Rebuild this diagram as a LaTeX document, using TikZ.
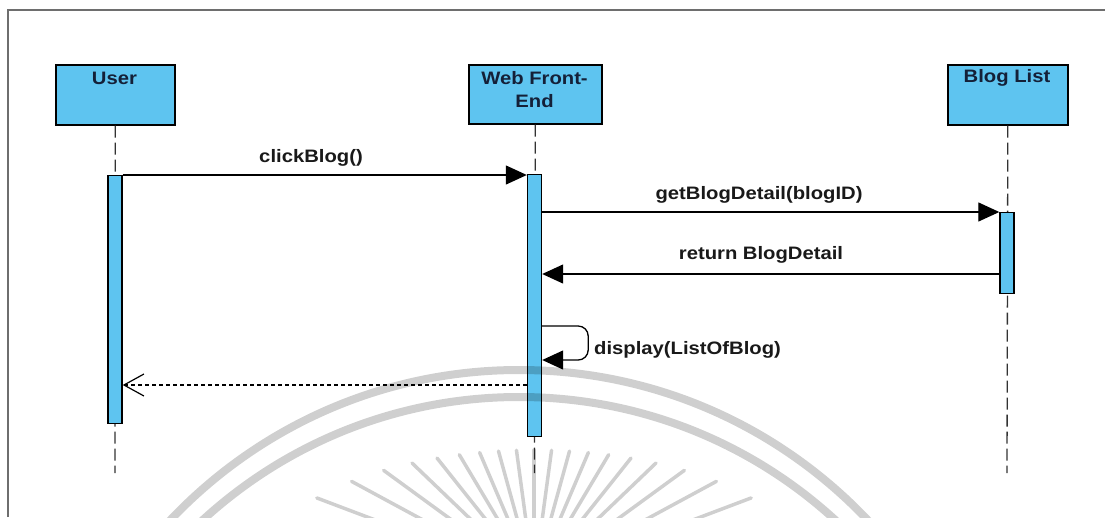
\documentclass[tikz,border=0pt]{standalone}
\usepackage{fontspec}
\setmainfont{Liberation Sans}[FakeStretch=1.125]
\usetikzlibrary{arrows.meta,calc}

\definecolor{lifeblue}{RGB}{94,196,240}
\definecolor{headtext}{RGB}{20,32,56}
\definecolor{framegray}{RGB}{110,110,110}

\begin{document}
\begin{tikzpicture}[x=1pt,y=-1pt,
  head/.style={draw=black, line width=1.6pt, fill=lifeblue, inner sep=0pt},
  actbar/.style={draw=black, line width=1.4pt, fill=lifeblue, inner sep=0pt, minimum width=14pt},
  lifeline/.style={draw=black!80, line width=1.3pt, dash pattern=on 12pt off 5pt},
  msg/.style={line width=1.3pt, -{Triangle[length=21pt,width=19pt]}},
  reply/.style={line width=1.1pt, dash pattern=on 4pt off 3pt,
    -{Straight Barb[length=20pt,width=22pt,line width=1.2pt]}},
  lbl/.style={font=\fontsize{18}{20}\selectfont\bfseries, text=black!90, inner sep=0pt},
  headlbl/.style={font=\fontsize{18}{23}\selectfont\bfseries, text=headtext, inner sep=0pt, align=center},
  wmark/.style={draw=black, line width=8pt},
  wray/.style={draw=black, line width=3.5pt, line cap=round}
]
\useasboundingbox (0,0) rectangle (1105,517);
\fill[white] (0,0) rectangle (1105,517);

% frame
\draw[framegray, line width=1.5pt] (8,517) -- (8,10) -- (1105,10);

% lifeline heads
\node[head, minimum width=119pt, minimum height=60pt, anchor=north west] (user) at (55,64) {};
\node[head, minimum width=133pt, minimum height=59pt, anchor=north west] (web) at (468,64) {};
\node[head, minimum width=120pt, minimum height=60pt, anchor=north west] (blog) at (947,64) {};
\node[headlbl] (userlbl) at (114.5,78) {User};
\node[headlbl] (weblbl) at (534.5,89.5) {Web Front-\\End};
\node[headlbl] (bloglbl) at (1007,78) {Blog List};

% lifelines
\coordinate (uend) at (115,473);
\coordinate (wend) at (534.5,473);
\coordinate (bend) at (1007,473);
\draw[lifeline] (user.south) -- (uend);
\draw[lifeline] (web.south) -- (wend);
\draw[lifeline] (blog.south) -- (bend);

% activation bars
\node[actbar, minimum height=248pt, anchor=north] (ubar) at (115,175) {};
\node[actbar, minimum height=262pt, anchor=north] (wbar) at (534.5,174) {};
\node[actbar, minimum height=81pt, anchor=north] (bbar) at (1007,212) {};

% messages
\coordinate (m1y) at (0,175);
\coordinate (m3y) at (0,274);
\coordinate (s1y) at (0,326);
\coordinate (s2y) at (0,360);
\coordinate (m5y) at (0,385);

\draw[msg] (ubar.east |- m1y) -- (wbar.west |- m1y);
\node[lbl] (m1) at (311,158) {clickBlog()};

\draw[msg] (wbar.east |- bbar.north) -- (bbar.north west);
\node[lbl] (m2) at (759,195) {getBlogDetail(blogID)};

\draw[msg] (bbar.west |- m3y) -- (wbar.east |- m3y);
\node[lbl] (m3) at (761,255) {return BlogDetail};

\draw[msg, rounded corners=10pt] (wbar.east |- s1y) -- ++(46,0) -- ++(0,34) -- (wbar.east |- s2y);
\node[lbl, anchor=west] (m4) at (594,350) {display(ListOfBlog)};

\draw[reply] (wbar.west |- m5y) -- (ubar.east |- m5y);

% faint seal watermark
\begin{scope}[opacity=0.19]
  \clip (8,10) rectangle (1105,517);
  \draw[wmark] (519,850) circle[radius=480pt];
  \draw[wmark] (519,865) circle[radius=468pt];
  \foreach \k in {-9,...,9}{
    \pgfmathsetmacro{\ang}{90+7.7*\k}
    \pgfmathsetmacro{\rr}{10*364/sqrt((13*cos(\ang))^2+(28*sin(\ang))^2)}
    \draw[wray] ({534+\rr*cos(\ang)},{580-\rr*sin(\ang)}) -- ({534+0.35*\rr*cos(\ang)},{580-0.35*\rr*sin(\ang)});
  }
\end{scope}
\end{tikzpicture}
\end{document}
